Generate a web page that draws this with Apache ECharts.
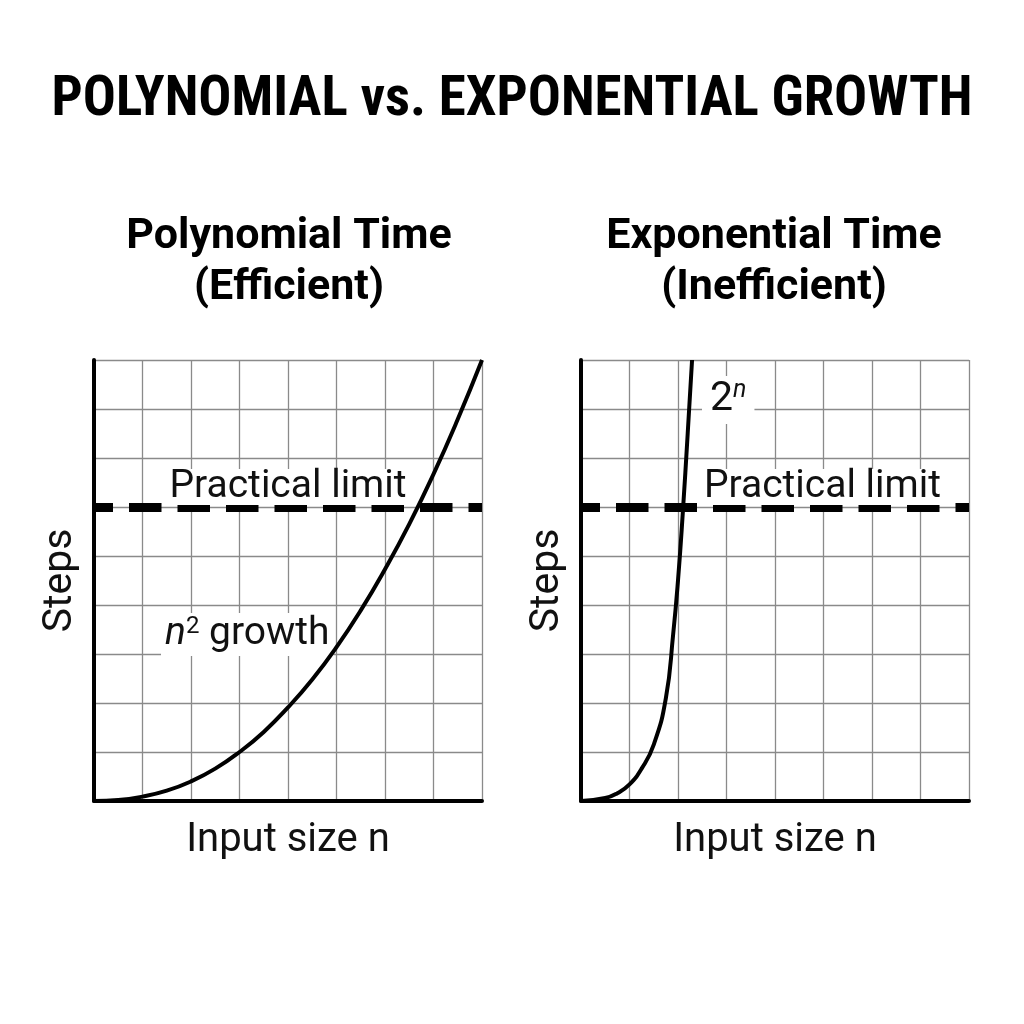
<!DOCTYPE html>
<html lang="en">
<head>
    <meta charset="UTF-8">
    <title>Polynomial vs Exponential</title>
    <script src="https://cdn.jsdelivr.net/npm/echarts@6/dist/echarts.min.js"></script>
</head>
<body style="margin:0;background:#fff;">
<div id="main" style="width: 1024px;height:1024px;"></div>
<script>
    // values (x = input size in grid cells, y = steps in grid cells)
    var polyX = [0, 0.5, 1, 1.5, 2, 2.5, 3, 3.5, 4, 4.5, 5, 5.5, 6, 6.5, 7, 7.5, 8];
    var polyY = [0, 0.02, 0.09, 0.21, 0.4, 0.66, 1.0, 1.41, 1.91, 2.48, 3.14, 3.89, 4.73, 5.65, 6.67, 7.79, 9.0];
    var expX = [0, 0.5, 0.75, 1, 1.25, 1.5, 1.75, 1.9, 2.0, 2.1, 2.2, 2.29];
    var expY = [0, 0.06, 0.16, 0.34, 0.66, 1.15, 2.1, 3.4, 4.5, 5.9, 7.5, 9.0];
    var limit = 6;

    var FONT = "Roboto, sans-serif";
    var FONT_TITLE = "'Roboto Condensed', Roboto, sans-serif";
    var myChart = echarts.init(document.getElementById('main'));

    function pairs(xs, ys) {
        return xs.map(function (x, i) { return [x, ys[i]]; });
    }

    function xAxis(idx) {
        return {
            type: 'value', gridIndex: idx, min: 0, max: 8, interval: 1,
            name: 'Input size n', nameLocation: 'middle', nameGap: 20,
            nameTextStyle: {fontFamily: FONT, fontSize: 40, color: '#111'},
            axisLine: {show: true, lineStyle: {color: '#000', width: 4}},
            axisTick: {show: false}, axisLabel: {show: false},
            splitLine: {show: true, lineStyle: {color: '#8a8a8a', width: 1.3}}
        };
    }
    function yAxis(idx) {
        return {
            type: 'value', gridIndex: idx, min: 0, max: 9, interval: 1,
            name: 'Steps', nameLocation: 'middle', nameGap: 13,
            nameTextStyle: {fontFamily: FONT, fontSize: 41, color: '#111'},
            axisLine: {show: true, lineStyle: {color: '#000', width: 4}},
            axisTick: {show: false}, axisLabel: {show: false},
            splitLine: {show: true, lineStyle: {color: '#8a8a8a', width: 1.3}}
        };
    }
    function limitLine(pos, dist) {
        return {
            silent: true, symbol: 'none',
            lineStyle: {color: '#000', width: 9, type: [32.5, 16], dashOffset: 13.5},
            label: {
                show: true, position: pos, distance: dist, formatter: 'Practical limit',
                fontFamily: FONT, fontSize: 39, color: '#111', lineHeight: 36,
                backgroundColor: '#fff', padding: [0, 4, 0, 4]
            },
            data: [{yAxis: limit}]
        };
    }

    var option = {
        backgroundColor: '#fff',
        animation: false,
        title: [
            {
                text: 'POLYNOMIAL vs. EXPONENTIAL GROWTH', left: 'center', top: 69,
                textStyle: {fontFamily: FONT_TITLE, fontSize: 55, fontWeight: 'bold', color: '#000'}
            },
            {
                text: 'Polynomial Time\n(Efficient)', left: 289, top: 212, textAlign: 'center', padding: 0,
                textStyle: {fontFamily: FONT, fontSize: 43, fontWeight: 'bold', color: '#000', lineHeight: 51}
            },
            {
                text: 'Exponential Time\n(Inefficient)', left: 774, top: 212, textAlign: 'center', padding: 0,
                textStyle: {fontFamily: FONT, fontSize: 43, fontWeight: 'bold', color: '#000', lineHeight: 51}
            }
        ],
        grid: [
            {left: 94, top: 360, width: 388, height: 441},
            {left: 581, top: 360, width: 388, height: 441}
        ],
        xAxis: [xAxis(0), xAxis(1)],
        yAxis: [yAxis(0), yAxis(1)],
        series: [
            {
                type: 'line', xAxisIndex: 0, yAxisIndex: 0,
                data: pairs(polyX, polyY), smooth: true,
                showSymbol: false, lineStyle: {color: '#000', width: 4},
                markLine: limitLine('insideMiddleTop', 2)
            },
            {
                type: 'line', xAxisIndex: 1, yAxisIndex: 1,
                data: pairs(expX, expY), smooth: true,
                showSymbol: false, lineStyle: {color: '#000', width: 4},
                markLine: limitLine('insideEndTop', [24, 2])
            }
        ],
        graphic: [
            {
                // curve annotations sit above the grid lines but under the curves
                type: 'text', left: 161, top: 613, z: 1,
                style: {
                    text: '{i|n}{s|2}{t| growth}', fill: '#111',
                    backgroundColor: '#fff', padding: [2, 4, 2, 4],
                    rich: {
                        i: {fontFamily: FONT, fontSize: 39, fontStyle: 'italic', lineHeight: 39},
                        s: {fontFamily: FONT, fontSize: 24, lineHeight: 29, verticalAlign: 'top'},
                        t: {fontFamily: FONT, fontSize: 39, lineHeight: 39}
                    }
                }
            },
            {
                type: 'text', left: 702, top: 376, z: 1,
                style: {
                    text: '{t|2}{s|n}', fill: '#111',
                    backgroundColor: '#fff', padding: [2, 8, 2, 8],
                    rich: {
                        t: {fontFamily: FONT, fontSize: 41, lineHeight: 44},
                        s: {fontFamily: FONT, fontSize: 25, fontStyle: 'italic', lineHeight: 24, verticalAlign: 'top'}
                    }
                }
            }
        ]
    };
    myChart.setOption(option);
</script>
</body>
</html>
